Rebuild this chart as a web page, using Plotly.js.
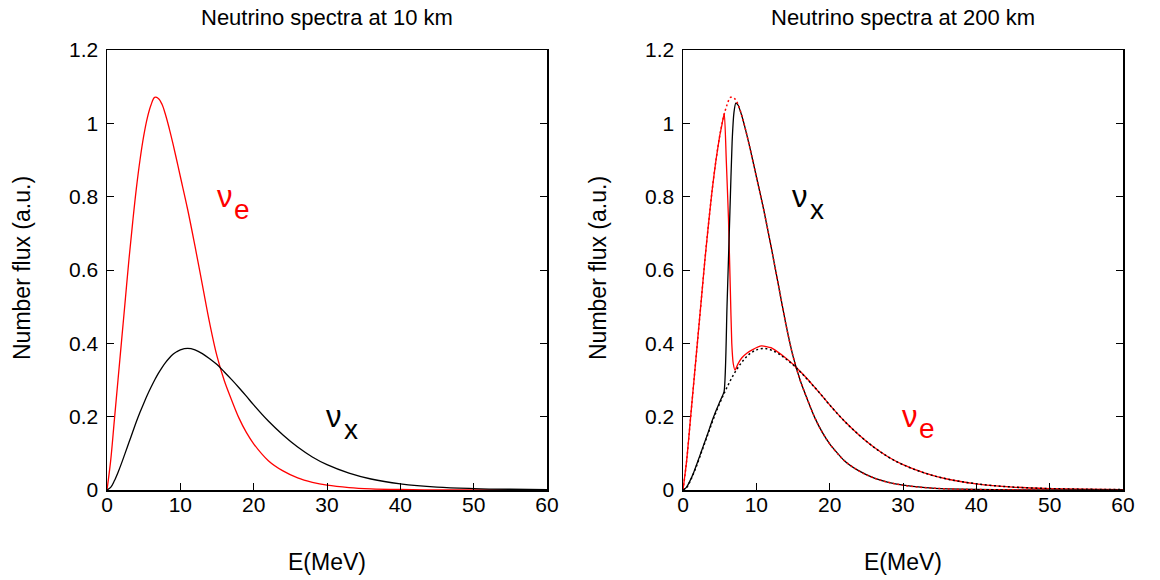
<!DOCTYPE html>
<html>
<head>
<meta charset="utf-8">
<script src="https://cdn.plot.ly/plotly-3.0.1.min.js"></script>
<style>
  html, body { margin: 0; padding: 0; background: #ffffff; }
  #chart { width: 1160px; height: 580px; }
</style>
</head>
<body>
<div id="chart"></div>
<script>
// ---------------- data ----------------
const panelTitles = ["Neutrino spectra at 10 km", "Neutrino spectra at 200 km"];
const xAxisTitle = "E(MeV)";
const yAxisTitle = "Number flux (a.u.)";

const xTickValues = [0, 10, 20, 30, 40, 50, 60];
const yTickValues = [0, 0.2, 0.4, 0.6, 0.8, 1.0, 1.2];
const yTickLabels = ["0", "0.2", "0.4", "0.6", "0.8", "1", "1.2"];

// energies (MeV) for the unswapped spectra
const energy = [0, 0.5, 1, 1.5, 2, 2.5, 3, 3.5, 4, 4.5, 5, 5.5, 6, 6.5, 7, 7.5, 8, 8.5, 9, 9.5, 10, 11, 12, 13, 14, 15, 16, 17, 18, 19, 20, 22, 24, 26, 28, 30, 33, 36, 40, 45, 50, 55, 60];
// nu_e number flux at 10 km
const nueFlux10 = [0, 0.08, 0.19, 0.30, 0.41, 0.52, 0.63, 0.73, 0.822, 0.9, 0.965, 1.015, 1.05, 1.071, 1.068, 1.052, 1.022, 0.985, 0.944, 0.9, 0.855, 0.765, 0.665, 0.56, 0.455, 0.365, 0.298, 0.245, 0.196, 0.157, 0.126, 0.08, 0.052, 0.033, 0.021, 0.013, 0.0065, 0.0032, 0.0013, 0.0004, 0.0001, 0, 0];
// nu_x number flux at 10 km
const nuxFlux10 = [0, 0.007, 0.025, 0.048, 0.074, 0.102, 0.13, 0.158, 0.186, 0.212, 0.236, 0.259, 0.28, 0.3, 0.318, 0.334, 0.348, 0.36, 0.37, 0.377, 0.382, 0.386, 0.382, 0.372, 0.358, 0.342, 0.322, 0.301, 0.279, 0.256, 0.232, 0.188, 0.15, 0.117, 0.09, 0.069, 0.046, 0.03, 0.017, 0.008, 0.004, 0.002, 0.001];

// nu_e at 200 km (after the spectral swap)
const energyNue200 = [0, 0.5, 1, 1.5, 2, 2.5, 3, 3.5, 4, 4.5, 5, 5.3, 5.63, 5.9, 6.2, 6.45, 6.65, 6.85, 7.1, 7.5, 8, 8.7, 9.5, 10.7, 12, 12.8, 14, 15, 16, 17, 18, 19, 20, 22, 24, 26, 28, 30, 33, 36, 40, 45, 50, 55, 60];
const nueFlux200 = [0, 0.08, 0.19, 0.30, 0.41, 0.52, 0.63, 0.73, 0.822, 0.9, 0.965, 0.995, 1.028, 0.9, 0.74, 0.55, 0.40, 0.345, 0.327, 0.344, 0.36, 0.373, 0.383, 0.393, 0.388, 0.378, 0.36, 0.343, 0.323, 0.302, 0.279, 0.256, 0.232, 0.188, 0.15, 0.117, 0.09, 0.069, 0.046, 0.03, 0.017, 0.008, 0.004, 0.002, 0.001];

// nu_x at 200 km (after the spectral swap)
const energyNux200 = [0, 0.5, 1, 1.5, 2, 2.5, 3, 3.5, 4, 4.5, 5, 5.6, 6.0, 6.4, 6.7, 6.95, 7.2, 7.5, 8, 8.5, 9, 9.5, 10, 11, 12, 13, 14, 15, 16, 17, 18, 19, 20, 22, 24, 26, 28, 30, 33, 36, 40, 45, 50, 55, 60];
const nuxFlux200 = [0, 0.008, 0.027, 0.05, 0.077, 0.105, 0.133, 0.161, 0.19, 0.216, 0.24, 0.268, 0.5, 0.76, 0.95, 1.03, 1.055, 1.05, 1.022, 0.985, 0.944, 0.9, 0.855, 0.765, 0.665, 0.56, 0.455, 0.365, 0.298, 0.245, 0.196, 0.157, 0.126, 0.08, 0.052, 0.033, 0.021, 0.013, 0.0065, 0.0032, 0.0013, 0.0004, 0.0001, 0, 0];

// ---------------- styling ----------------
const FONT = '"Liberation Sans", Arial, Helvetica, sans-serif';
const RED = '#ff0000';
const BLACK = '#000000';
const DOTS = '2px,2.6px';

const traces = [
  { x: energy, y: nueFlux10, xaxis: 'x', yaxis: 'y', mode: 'lines',
    line: { color: RED, width: 1.3, shape: 'spline', smoothing: 1 }, hoverinfo: 'skip' },
  { x: energy, y: nuxFlux10, xaxis: 'x', yaxis: 'y', mode: 'lines',
    line: { color: BLACK, width: 1.3, shape: 'spline', smoothing: 1 }, hoverinfo: 'skip' },

  { x: energyNue200, y: nueFlux200, xaxis: 'x2', yaxis: 'y2', mode: 'lines',
    line: { color: RED, width: 1.3, shape: 'spline', smoothing: 0.5 }, hoverinfo: 'skip' },
  { x: energyNux200, y: nuxFlux200, xaxis: 'x2', yaxis: 'y2', mode: 'lines',
    line: { color: BLACK, width: 1.3, shape: 'spline', smoothing: 0.5 }, hoverinfo: 'skip' },
  { x: energy, y: nueFlux10, xaxis: 'x2', yaxis: 'y2', mode: 'lines',
    line: { color: RED, width: 1.5, dash: DOTS, shape: 'spline', smoothing: 1 }, hoverinfo: 'skip' },
  { x: energy, y: nuxFlux10, xaxis: 'x2', yaxis: 'y2', mode: 'lines',
    line: { color: BLACK, width: 1.5, dash: DOTS, shape: 'spline', smoothing: 1 }, hoverinfo: 'skip' }
];

const W = 1160, H = 580;
const leftDom = [107 / W, 547 / W];
const rightDom = [683 / W, 1123 / W];
const yDom = [1 - 490 / H, 1 - 50 / H];
const tickFont = { family: FONT, size: 21, color: BLACK };

function xAxis(dom, anchor) {
  return {
    domain: dom, anchor: anchor, range: [0, 60], tickvals: xTickValues,
    ticktext: xTickValues.map(String),
    ticks: 'inside', ticklen: 7, tickwidth: 1, tickcolor: BLACK,
    showline: true, linecolor: BLACK, linewidth: 1.5, mirror: true,
    showgrid: false, zeroline: false, tickfont: tickFont, fixedrange: true,
    ticklabelstandoff: -5
  };
}
function xTopAxis(dom, overlay, anchor) {
  return {
    domain: dom, overlaying: overlay, anchor: anchor, side: 'top', range: [0, 60],
    tickvals: xTickValues, ticks: 'inside', ticklen: 14, tickwidth: 1, tickcolor: BLACK,
    showticklabels: false, showline: false, showgrid: false, zeroline: false, fixedrange: true
  };
}
function yAxis(anchor) {
  return {
    domain: yDom, anchor: anchor, range: [0, 1.2], tickvals: yTickValues, ticktext: yTickLabels,
    ticks: 'inside', ticklen: 7, tickwidth: 1, tickcolor: BLACK,
    showline: true, linecolor: BLACK, linewidth: 1.5, mirror: 'ticks',
    showgrid: false, zeroline: false, tickfont: tickFont, fixedrange: true,
    ticklabelstandoff: 3
  };
}

function label(text, xref, yref, x, y, color, size) {
  return { text: text, xref: xref, yref: yref, x: x, y: y, showarrow: false,
           xanchor: 'center', yanchor: 'middle', font: { family: FONT, size: size, color: color } };
}

const annotations = [
  label(panelTitles[0], 'paper', 'paper', 327 / W, 1 - 18 / H, BLACK, 22),
  label(panelTitles[1], 'paper', 'paper', 903 / W, 1 - 18 / H, BLACK, 22),
  label(xAxisTitle, 'paper', 'paper', 327 / W, 1 - 562 / H, BLACK, 23),
  label(xAxisTitle, 'paper', 'paper', 903 / W, 1 - 562 / H, BLACK, 23),
  Object.assign(label(yAxisTitle, 'paper', 'paper', 22 / W, 1 - 268 / H, BLACK, 23), { textangle: -90 }),
  Object.assign(label(yAxisTitle, 'paper', 'paper', 598 / W, 1 - 268 / H, BLACK, 23), { textangle: -90 }),

  label('ν', 'x', 'y', 16.1, 0.80, RED, 31),
  label('e', 'x', 'y', 18.4, 0.765, RED, 28),
  label('ν', 'x', 'y', 30.95, 0.20, BLACK, 31),
  label('x', 'x', 'y', 33.3, 0.165, BLACK, 28),

  label('ν', 'x2', 'y2', 16.0, 0.80, BLACK, 31),
  label('x', 'x2', 'y2', 18.3, 0.765, BLACK, 28),
  label('ν', 'x2', 'y2', 31.0, 0.20, RED, 31),
  label('e', 'x2', 'y2', 33.3, 0.168, RED, 28)
];

const layout = {
  width: W, height: H,
  margin: { l: 0, r: 0, t: 0, b: 0, pad: 0 },
  paper_bgcolor: '#ffffff', plot_bgcolor: '#ffffff',
  showlegend: false,
  font: { family: FONT, color: BLACK },
  xaxis: xAxis(leftDom, 'y'),
  yaxis: yAxis('x'),
  xaxis2: xAxis(rightDom, 'y2'),
  yaxis2: yAxis('x2'),
  xaxis3: xTopAxis(leftDom, 'x', 'y'),
  xaxis4: xTopAxis(rightDom, 'x2', 'y2'),
  annotations: annotations
};

Plotly.newPlot('chart', traces, layout, { staticPlot: true, displayModeBar: false });
</script>
</body>
</html>
